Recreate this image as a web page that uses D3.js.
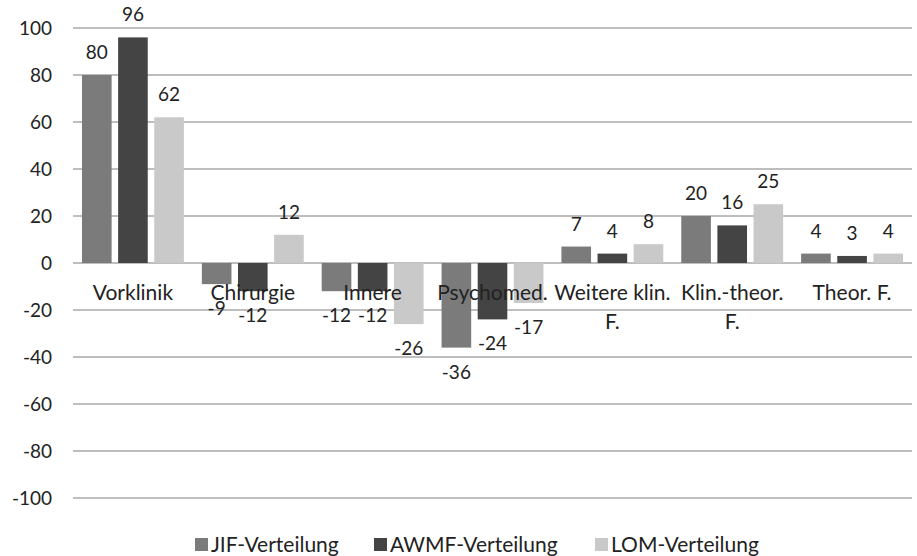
<!DOCTYPE html>
<html>
<head>
<meta charset="utf-8">
<script src="https://cdn.jsdelivr.net/npm/d3@7"></script>
<style>
  body { margin: 0; background: #fff; }
  text { font-family: Lato, "Open Sans", sans-serif; fill: #222; }
</style>
</head>
<body>
<script>
// categories and series
var categories = ["Vorklinik", "Chirurgie", "Innere", "Psychomed.", "Weitere klin. F.", "Klin.-theor. F.", "Theor. F."];
var categoryLines = [["Vorklinik"], ["Chirurgie"], ["Innere"], ["Psychomed."], ["Weitere klin.", "F."], ["Klin.-theor.", "F."], ["Theor. F."]];
var seriesNames = ["JIF-Verteilung", "AWMF-Verteilung", "LOM-Verteilung"];
var jifValues = [80, -9, -12, -36, 7, 20, 4];
var awmfValues = [96, -12, -12, -24, 4, 16, 3];
var lomValues = [62, 12, -26, -17, 8, 25, 4];
var yTicks = [-100, -80, -60, -40, -20, 0, 20, 40, 60, 80, 100];
var colors = ["#7b7b7b", "#444444", "#c9c9c9"];

var width = 917, height = 556;
var margin = {left: 73, right: 5, top: 28, bottom: 58};

var svg = d3.select("body").append("svg")
    .attr("width", width)
    .attr("height", height);

var x = d3.scaleBand()
    .domain(categories)
    .range([margin.left, width - margin.right])
    .paddingInner(0.15)
    .paddingOuter(0.075);

var allSeries = [jifValues, awmfValues, lomValues];

var xSub = d3.scaleBand()
    .domain(d3.range(allSeries.length))
    .range([0, x.bandwidth()])
    .paddingInner(0.18);

var y = d3.scaleLinear()
    .domain([-100, 100])
    .range([height - margin.bottom, margin.top]);

// gridlines
svg.append("g").selectAll("line")
    .data(yTicks)
    .enter()
    .append("line")
    .attr("x1", margin.left)
    .attr("x2", width - margin.right)
    .attr("y1", function(d){ return y(d); })
    .attr("y2", function(d){ return y(d); })
    .attr("stroke", "#a9a9a9")
    .attr("stroke-width", 1.5);

// y tick labels
svg.append("g").selectAll("text")
    .data(yTicks)
    .enter()
    .append("text")
    .attr("x", 52)
    .attr("y", function(d){ return y(d); })
    .attr("dy", "0.35em")
    .attr("text-anchor", "end")
    .style("font-size", "19px")
    .text(function(d){ return d; });

// bars
var groups = svg.append("g").selectAll("g")
    .data(allSeries)
    .enter()
    .append("g")
    .attr("fill", function(d, i){ return colors[i]; });

groups.each(function(vals, si){
  var g = d3.select(this);
  g.selectAll("rect")
    .data(vals)
    .enter()
    .append("rect")
    .attr("x", function(d, i){ return x(categories[i]) + xSub(si); })
    .attr("width", xSub.bandwidth())
    .attr("y", function(d){ return y(Math.max(0, d)); })
    .attr("height", function(d){ return Math.abs(y(d) - y(0)); });

  g.selectAll("text")
    .data(vals)
    .enter()
    .append("text")
    .attr("x", function(d, i){ return x(categories[i]) + xSub(si) + xSub.bandwidth() / 2; })
    .attr("y", function(d){ return d >= 0 ? y(d) - 16 : y(d) + 31; })
    .attr("text-anchor", "middle")
    .style("font-size", "19px")
    .text(function(d){ return d; });
});

// category labels, wrapped like the original
var catLabels = svg.append("g").selectAll("text")
    .data(categories)
    .enter()
    .append("text")
    .attr("x", function(d){ return x(d) + x.bandwidth() / 2; })
    .attr("y", y(0) + 37)
    .attr("text-anchor", "middle")
    .style("font-size", "21px");

catLabels.each(function(d, i){
  var t = d3.select(this);
  categoryLines[i].forEach(function(l, li){
    t.append("tspan")
      .attr("x", x(d) + x.bandwidth() / 2)
      .attr("dy", li == 0 ? 0 : 29)
      .text(l);
  });
});

// legend
var legendX = [195, 374, 595];
var legend = svg.append("g").selectAll("g")
    .data(seriesNames)
    .enter()
    .append("g")
    .attr("transform", function(d, i){ return "translate(" + legendX[i] + ",545)"; });

legend.append("rect")
    .attr("x", 0)
    .attr("y", -7)
    .attr("width", 13)
    .attr("height", 13)
    .attr("fill", function(d, i){ return colors[i]; });

legend.append("text")
    .attr("x", 16)
    .attr("dy", "0.35em")
    .style("font-size", "21px")
    .text(function(d){ return d; });
</script>
</body>
</html>
